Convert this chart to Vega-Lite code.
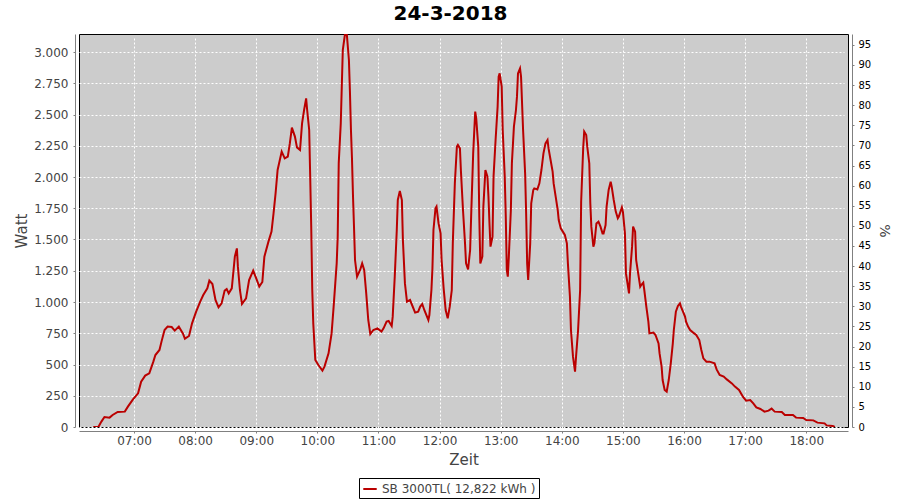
{
  "$schema": "https://vega.github.io/schema/vega-lite/v6.json",
  "width": 769,
  "height": 393,
  "autosize": {"type": "none"},
  "padding": {"left": 79, "top": 34, "right": 52, "bottom": 73},
  "background": "white",
  "config": {
    "view": {"fill": "#CCCCCC", "stroke": "black", "strokeWidth": 1},
    "font": "DejaVu Sans",
    "axis": {
      "domainColor": "#808080",
      "domainWidth": 1,
      "tickColor": "#808080",
      "tickSize": 2,
      "offset": 4,
      "labelFont": "DejaVu Sans",
      "labelFontSize": 12,
      "labelColor": "#444444",
      "titleFont": "DejaVu Sans",
      "titleFontSize": 15,
      "titleFontWeight": "normal",
      "titleColor": "#444444",
      "gridColor": "white",
      "gridDash": [2, 2],
      "gridWidth": 1,
      "gridOpacity": 1
    }
  },
  "title": {
    "text": "24-3-2018",
    "font": "DejaVu Sans",
    "fontSize": 20,
    "fontWeight": "bold",
    "color": "black",
    "anchor": "middle",
    "dx": -13,
    "offset": 10
  },
  "layer": [
    {
      "data": {
        "format": {"parse": {"t": "utc:'%H:%M'"}},
        "values": [
          {"t": "06:20", "W": 0}, {"t": "06:25", "W": 0}, {"t": "06:28", "W": 43}, {"t": "06:31", "W": 80},
          {"t": "06:36", "W": 75}, {"t": "06:39", "W": 96}, {"t": "06:44", "W": 120}, {"t": "06:51", "W": 123},
          {"t": "06:54", "W": 163}, {"t": "06:59", "W": 221}, {"t": "07:04", "W": 269}, {"t": "07:07", "W": 363},
          {"t": "07:11", "W": 411}, {"t": "07:15", "W": 429}, {"t": "07:19", "W": 523}, {"t": "07:21", "W": 576},
          {"t": "07:25", "W": 616}, {"t": "07:27", "W": 683}, {"t": "07:30", "W": 776}, {"t": "07:33", "W": 803},
          {"t": "07:37", "W": 800}, {"t": "07:40", "W": 771}, {"t": "07:44", "W": 803}, {"t": "07:48", "W": 749},
          {"t": "07:50", "W": 707}, {"t": "07:54", "W": 728}, {"t": "07:57", "W": 829}, {"t": "08:01", "W": 923},
          {"t": "08:05", "W": 1003}, {"t": "08:08", "W": 1056}, {"t": "08:12", "W": 1109}, {"t": "08:14", "W": 1171},
          {"t": "08:17", "W": 1144}, {"t": "08:20", "W": 1016}, {"t": "08:23", "W": 957}, {"t": "08:26", "W": 989},
          {"t": "08:29", "W": 1091}, {"t": "08:31", "W": 1104}, {"t": "08:33", "W": 1069}, {"t": "08:36", "W": 1109},
          {"t": "08:39", "W": 1363}, {"t": "08:41", "W": 1429}, {"t": "08:42", "W": 1283}, {"t": "08:44", "W": 1096},
          {"t": "08:46", "W": 984}, {"t": "08:50", "W": 1029}, {"t": "08:53", "W": 1176}, {"t": "08:57", "W": 1251},
          {"t": "09:00", "W": 1189}, {"t": "09:03", "W": 1123}, {"t": "09:06", "W": 1160}, {"t": "09:08", "W": 1363},
          {"t": "09:12", "W": 1483}, {"t": "09:15", "W": 1563}, {"t": "09:17", "W": 1709}, {"t": "09:19", "W": 1869},
          {"t": "09:21", "W": 2056}, {"t": "09:25", "W": 2203}, {"t": "09:28", "W": 2149}, {"t": "09:31", "W": 2163},
          {"t": "09:33", "W": 2269}, {"t": "09:35", "W": 2395}, {"t": "09:38", "W": 2323}, {"t": "09:40", "W": 2237},
          {"t": "09:43", "W": 2216}, {"t": "09:45", "W": 2429}, {"t": "09:47", "W": 2536}, {"t": "09:49", "W": 2629},
          {"t": "09:50", "W": 2536}, {"t": "09:52", "W": 2376}, {"t": "09:53", "W": 2000}, {"t": "09:54", "W": 1600},
          {"t": "09:55", "W": 1100}, {"t": "09:56", "W": 829}, {"t": "09:58", "W": 536}, {"t": "10:01", "W": 496},
          {"t": "10:05", "W": 451}, {"t": "10:07", "W": 483}, {"t": "10:11", "W": 589}, {"t": "10:14", "W": 749},
          {"t": "10:16", "W": 963}, {"t": "10:19", "W": 1309}, {"t": "10:20", "W": 1523}, {"t": "10:21", "W": 2109},
          {"t": "10:23", "W": 2429}, {"t": "10:24", "W": 2723}, {"t": "10:25", "W": 3016}, {"t": "10:27", "W": 3136},
          {"t": "10:29", "W": 3136}, {"t": "10:31", "W": 2936}, {"t": "10:32", "W": 2683}, {"t": "10:33", "W": 2376},
          {"t": "10:34", "W": 2150}, {"t": "10:35", "W": 1850}, {"t": "10:36", "W": 1600}, {"t": "10:37", "W": 1336},
          {"t": "10:39", "W": 1203}, {"t": "10:42", "W": 1256}, {"t": "10:44", "W": 1309}, {"t": "10:46", "W": 1256},
          {"t": "10:48", "W": 1069}, {"t": "10:50", "W": 856}, {"t": "10:52", "W": 744}, {"t": "10:55", "W": 776},
          {"t": "10:59", "W": 789}, {"t": "11:03", "W": 763}, {"t": "11:05", "W": 789}, {"t": "11:08", "W": 843},
          {"t": "11:10", "W": 848}, {"t": "11:13", "W": 808}, {"t": "11:14", "W": 883}, {"t": "11:16", "W": 1203},
          {"t": "11:18", "W": 1576}, {"t": "11:19", "W": 1816}, {"t": "11:21", "W": 1888}, {"t": "11:23", "W": 1816},
          {"t": "11:24", "W": 1496}, {"t": "11:26", "W": 1149}, {"t": "11:28", "W": 1003}, {"t": "11:31", "W": 1016},
          {"t": "11:33", "W": 976}, {"t": "11:36", "W": 915}, {"t": "11:39", "W": 923}, {"t": "11:41", "W": 963},
          {"t": "11:43", "W": 984}, {"t": "11:45", "W": 936}, {"t": "11:49", "W": 856}, {"t": "11:50", "W": 896},
          {"t": "11:52", "W": 1096}, {"t": "11:53", "W": 1269}, {"t": "11:54", "W": 1576}, {"t": "11:56", "W": 1749},
          {"t": "11:57", "W": 1763}, {"t": "11:59", "W": 1629}, {"t": "12:01", "W": 1549}, {"t": "12:02", "W": 1336},
          {"t": "12:04", "W": 1109}, {"t": "12:06", "W": 936}, {"t": "12:08", "W": 869}, {"t": "12:10", "W": 963},
          {"t": "12:12", "W": 1096}, {"t": "12:13", "W": 1469}, {"t": "12:15", "W": 1949}, {"t": "12:17", "W": 2243},
          {"t": "12:18", "W": 2256}, {"t": "12:20", "W": 2229}, {"t": "12:21", "W": 2043}, {"t": "12:23", "W": 1736},
          {"t": "12:25", "W": 1469}, {"t": "12:26", "W": 1309}, {"t": "12:28", "W": 1261}, {"t": "12:30", "W": 1416},
          {"t": "12:31", "W": 1683}, {"t": "12:33", "W": 2189}, {"t": "12:35", "W": 2523}, {"t": "12:36", "W": 2469},
          {"t": "12:38", "W": 2243}, {"t": "12:39", "W": 1683}, {"t": "12:40", "W": 1309}, {"t": "12:42", "W": 1363},
          {"t": "12:43", "W": 1763}, {"t": "12:45", "W": 2056}, {"t": "12:47", "W": 2003}, {"t": "12:48", "W": 1843},
          {"t": "12:49", "W": 1629}, {"t": "12:50", "W": 1443}, {"t": "12:52", "W": 1523}, {"t": "12:53", "W": 2003},
          {"t": "12:55", "W": 2296}, {"t": "12:57", "W": 2563}, {"t": "12:58", "W": 2803}, {"t": "12:59", "W": 2829},
          {"t": "13:01", "W": 2723}, {"t": "13:02", "W": 2376}, {"t": "13:04", "W": 2003}, {"t": "13:05", "W": 1683},
          {"t": "13:06", "W": 1256}, {"t": "13:07", "W": 1203}, {"t": "13:08", "W": 1363}, {"t": "13:10", "W": 1736},
          {"t": "13:11", "W": 2109}, {"t": "13:13", "W": 2403}, {"t": "13:15", "W": 2536}, {"t": "13:16", "W": 2643},
          {"t": "13:17", "W": 2829}, {"t": "13:19", "W": 2869}, {"t": "13:20", "W": 2803}, {"t": "13:22", "W": 2376},
          {"t": "13:24", "W": 2029}, {"t": "13:25", "W": 1709}, {"t": "13:26", "W": 1309}, {"t": "13:27", "W": 1176},
          {"t": "13:29", "W": 1469}, {"t": "13:30", "W": 1789}, {"t": "13:32", "W": 1896}, {"t": "13:33", "W": 1909},
          {"t": "13:36", "W": 1901}, {"t": "13:38", "W": 1949}, {"t": "13:40", "W": 2056}, {"t": "13:42", "W": 2189},
          {"t": "13:44", "W": 2269}, {"t": "13:46", "W": 2296}, {"t": "13:47", "W": 2229}, {"t": "13:49", "W": 2136},
          {"t": "13:51", "W": 2043}, {"t": "13:52", "W": 1949}, {"t": "13:54", "W": 1843}, {"t": "13:56", "W": 1736},
          {"t": "13:57", "W": 1656}, {"t": "13:59", "W": 1589}, {"t": "14:01", "W": 1563}, {"t": "14:03", "W": 1536},
          {"t": "14:05", "W": 1469}, {"t": "14:06", "W": 1309}, {"t": "14:08", "W": 1043}, {"t": "14:09", "W": 776},
          {"t": "14:11", "W": 563}, {"t": "14:13", "W": 443}, {"t": "14:14", "W": 563}, {"t": "14:16", "W": 776},
          {"t": "14:18", "W": 1096}, {"t": "14:19", "W": 1800}, {"t": "14:21", "W": 2230}, {"t": "14:22", "W": 2363},
          {"t": "14:24", "W": 2336}, {"t": "14:25", "W": 2243}, {"t": "14:27", "W": 2109}, {"t": "14:28", "W": 1789},
          {"t": "14:29", "W": 1603}, {"t": "14:31", "W": 1443}, {"t": "14:32", "W": 1469}, {"t": "14:34", "W": 1629},
          {"t": "14:36", "W": 1643}, {"t": "14:38", "W": 1603}, {"t": "14:40", "W": 1549}, {"t": "14:41", "W": 1549},
          {"t": "14:43", "W": 1616}, {"t": "14:44", "W": 1763}, {"t": "14:46", "W": 1896}, {"t": "14:48", "W": 1963},
          {"t": "14:49", "W": 1923}, {"t": "14:51", "W": 1816}, {"t": "14:53", "W": 1723}, {"t": "14:55", "W": 1669},
          {"t": "14:56", "W": 1683}, {"t": "14:59", "W": 1757}, {"t": "15:00", "W": 1723}, {"t": "15:02", "W": 1549},
          {"t": "15:03", "W": 1229}, {"t": "15:05", "W": 1123}, {"t": "15:06", "W": 1069}, {"t": "15:07", "W": 1229},
          {"t": "15:09", "W": 1443}, {"t": "15:10", "W": 1603}, {"t": "15:12", "W": 1563}, {"t": "15:13", "W": 1336},
          {"t": "15:15", "W": 1229}, {"t": "15:17", "W": 1123}, {"t": "15:18", "W": 1136}, {"t": "15:20", "W": 1155},
          {"t": "15:21", "W": 1096}, {"t": "15:23", "W": 963}, {"t": "15:25", "W": 843}, {"t": "15:26", "W": 749},
          {"t": "15:30", "W": 755}, {"t": "15:32", "W": 736}, {"t": "15:35", "W": 669}, {"t": "15:36", "W": 589},
          {"t": "15:38", "W": 483}, {"t": "15:39", "W": 376}, {"t": "15:41", "W": 296}, {"t": "15:43", "W": 283},
          {"t": "15:45", "W": 376}, {"t": "15:47", "W": 509}, {"t": "15:49", "W": 669}, {"t": "15:50", "W": 776},
          {"t": "15:52", "W": 923}, {"t": "15:54", "W": 968}, {"t": "15:56", "W": 989}, {"t": "15:57", "W": 963},
          {"t": "15:59", "W": 923}, {"t": "16:01", "W": 883}, {"t": "16:02", "W": 843}, {"t": "16:04", "W": 803},
          {"t": "16:06", "W": 776}, {"t": "16:09", "W": 755}, {"t": "16:12", "W": 736}, {"t": "16:15", "W": 696},
          {"t": "16:17", "W": 616}, {"t": "16:19", "W": 549}, {"t": "16:22", "W": 523}, {"t": "16:25", "W": 523},
          {"t": "16:30", "W": 509}, {"t": "16:32", "W": 461}, {"t": "16:35", "W": 416}, {"t": "16:39", "W": 403},
          {"t": "16:42", "W": 381}, {"t": "16:47", "W": 349}, {"t": "16:50", "W": 323}, {"t": "16:54", "W": 296},
          {"t": "16:58", "W": 240}, {"t": "17:01", "W": 211}, {"t": "17:05", "W": 216}, {"t": "17:08", "W": 189},
          {"t": "17:11", "W": 157}, {"t": "17:15", "W": 144}, {"t": "17:19", "W": 123}, {"t": "17:23", "W": 131},
          {"t": "17:26", "W": 147}, {"t": "17:29", "W": 123}, {"t": "17:36", "W": 120}, {"t": "17:39", "W": 96},
          {"t": "17:47", "W": 96}, {"t": "17:50", "W": 75}, {"t": "17:57", "W": 72}, {"t": "18:00", "W": 56},
          {"t": "18:07", "W": 53}, {"t": "18:11", "W": 35}, {"t": "18:18", "W": 29}, {"t": "18:20", "W": 13},
          {"t": "18:26", "W": 8}, {"t": "18:28", "W": 0}
        ]
      },
      "mark": {"type": "line", "strokeWidth": 2, "clip": true},
      "encoding": {
        "x": {
          "field": "t",
          "type": "temporal",
          "scale": {
            "type": "utc",
            "domain": [
              {"year": 1900, "month": 1, "date": 1, "hours": 6, "minutes": 6, "utc": true},
              {"year": 1900, "month": 1, "date": 1, "hours": 18, "minutes": 41, "utc": true}
            ]
          },
          "axis": {
            "title": "Zeit",
            "format": "%H:%M",
            "values": [
              {"year": 1900, "month": 1, "date": 1, "hours": 7, "utc": true},
              {"year": 1900, "month": 1, "date": 1, "hours": 8, "utc": true},
              {"year": 1900, "month": 1, "date": 1, "hours": 9, "utc": true},
              {"year": 1900, "month": 1, "date": 1, "hours": 10, "utc": true},
              {"year": 1900, "month": 1, "date": 1, "hours": 11, "utc": true},
              {"year": 1900, "month": 1, "date": 1, "hours": 12, "utc": true},
              {"year": 1900, "month": 1, "date": 1, "hours": 13, "utc": true},
              {"year": 1900, "month": 1, "date": 1, "hours": 14, "utc": true},
              {"year": 1900, "month": 1, "date": 1, "hours": 15, "utc": true},
              {"year": 1900, "month": 1, "date": 1, "hours": 16, "utc": true},
              {"year": 1900, "month": 1, "date": 1, "hours": 17, "utc": true},
              {"year": 1900, "month": 1, "date": 1, "hours": 18, "utc": true}
            ],
            "grid": true,
            "labelPadding": 2,
            "titlePadding": 6,
            "labelFlush": false,
            "labelOverlap": false
          }
        },
        "y": {
          "field": "W",
          "type": "quantitative",
          "scale": {"domain": [0, 3144], "nice": false, "zero": true},
          "axis": {
            "title": "Watt",
            "values": [0, 250, 500, 750, 1000, 1250, 1500, 1750, 2000, 2250, 2500, 2750, 3000],
            "labelExpr": "replace(format(datum.value, ','), ',', '.')",
            "grid": true,
            "labelPadding": 5,
            "titlePadding": 4
          }
        },
        "color": {
          "datum": "SB 3000TL( 12,822 kWh )",
          "type": "nominal",
          "scale": {"range": ["#BA0000"]},
          "legend": {
            "orient": "none",
            "legendX": 280,
            "legendY": 444,
            "title": null,
            "strokeColor": "black",
            "fillColor": "white",
            "padding": 3,
            "symbolType": "stroke",
            "symbolStrokeWidth": 2,
            "symbolSize": 180,
            "labelFont": "DejaVu Sans",
            "labelFontSize": 12,
            "labelColor": "#444444"
          }
        }
      }
    },
    {
      "data": {"values": [{"p": 0}]},
      "mark": {"type": "point", "opacity": 0},
      "encoding": {
        "y": {
          "field": "p",
          "type": "quantitative",
          "scale": {"domain": [0, 97.7], "nice": false},
          "axis": {
            "orient": "right",
            "title": "%",
            "titleFontSize": 14,
            "values": [0, 5, 10, 15, 20, 25, 30, 35, 40, 45, 50, 55, 60, 65, 70, 75, 80, 85, 90, 95],
            "grid": false,
            "labelFontSize": 10,
            "labelColor": "black",
            "labelPadding": 4,
            "titlePadding": 6
          }
        }
      }
    }
  ],
  "resolve": {"scale": {"y": "independent"}, "axis": {"y": "independent"}}
}
